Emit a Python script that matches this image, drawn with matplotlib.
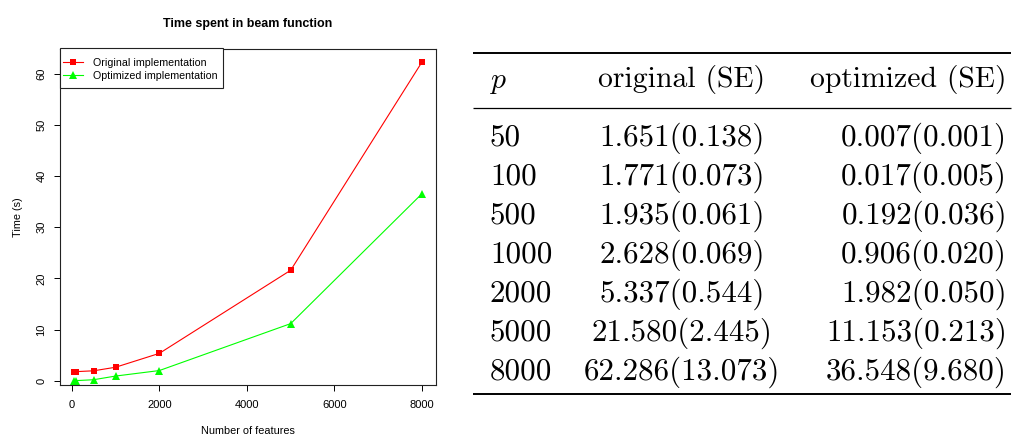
import matplotlib
matplotlib.use("Agg")
import matplotlib.pyplot as plt
from matplotlib.patches import Rectangle

# ---- data ----
p_values = [50, 100, 500, 1000, 2000, 5000, 8000]
orig_time = [1.651, 1.771, 1.935, 2.628, 5.337, 21.580, 62.286]
orig_se = [0.138, 0.073, 0.061, 0.069, 0.544, 2.445, 13.073]
opt_time = [0.007, 0.017, 0.192, 0.906, 1.982, 11.153, 36.548]
opt_se = [0.001, 0.005, 0.036, 0.020, 0.050, 0.213, 9.680]
x_ticks = [0, 2000, 4000, 6000, 8000]
y_ticks = [0, 10, 20, 30, 40, 50, 60]
title = "Time spent in beam function"
xlabel = "Number of features"
ylabel = "Time (s)"
series_labels = ["Original implementation", "Optimized implementation"]
table_header = ["original (SE)", "optimized (SE)"]

plt.rcParams['mathtext.fontset'] = 'cm'
W, H = 1019, 436
fig = plt.figure(figsize=(W / 100, H / 100), dpi=100)

# ---- table (pixel coordinate layer) ----
tab = fig.add_axes([0, 0, 1, 1])
tab.set_xlim(0, W)
tab.set_ylim(H, 0)
tab.set_axis_off()

fs_tab = 22.3
fs_hdr = 21.4
rule_x0, rule_x1 = 473, 1011
tab.plot([rule_x0, rule_x1], [53.5, 53.5], color='black', lw=1.4, solid_capstyle='butt')
tab.plot([rule_x0, rule_x1], [108.3, 108.3], color='black', lw=0.9, solid_capstyle='butt')
tab.plot([rule_x0, rule_x1], [393.5, 393.5], color='black', lw=1.4, solid_capstyle='butt')

col1_x, col2_x, col3_x = 489, 682, 1007
hdr_y = 87.5
tab.text(col1_x, hdr_y, r'$p$', fontsize=fs_hdr, ha='left', va='baseline')
tab.text(col2_x, hdr_y, table_header[0], family='cmr10', fontsize=fs_hdr, ha='center', va='baseline')
tab.text(col3_x, hdr_y, table_header[1], family='cmr10', fontsize=fs_hdr, ha='right', va='baseline')
row_y0, row_step = 145.5, 39
for i, p in enumerate(p_values):
    y = row_y0 + i * row_step
    tab.text(col1_x + 1, y, str(p), family='cmr10', fontsize=fs_tab, ha='left', va='baseline')
    tab.text(col2_x, y, f"{orig_time[i]:.3f}({orig_se[i]:.3f})", family='cmr10',
             fontsize=fs_tab, ha='center', va='baseline')
    tab.text(col3_x, y, f"{opt_time[i]:.3f}({opt_se[i]:.3f})", family='cmr10',
             fontsize=fs_tab, ha='right', va='baseline')

# ---- plot ----
sans = ['Liberation Sans', 'DejaVu Sans']
ax = fig.add_axes([60 / W, 1 - 385 / H, (436 - 60) / W, (385 - 49) / H])
ax.plot(p_values, orig_time, color='#ff0000', lw=0.8, marker='s', ms=4.2,
        markeredgewidth=0, label=series_labels[0])
ax.plot(p_values, opt_time, color='#00ff00', lw=0.8, marker='^', ms=5.2,
        markeredgewidth=0, label=series_labels[1])
ax.set_xlim(-268, 8318)
ax.set_ylim(-0.84, 64.8)
ax.set_xticks(x_ticks)
ax.set_yticks(y_ticks)
ax.set_xticklabels([str(v) for v in x_ticks], family=sans, fontsize=8)
ax.set_yticklabels([str(v) for v in y_ticks], family=sans, fontsize=8,
                   rotation=90, va='center')
ax.tick_params(direction='out', length=4.5, width=0.7)
ax.tick_params(axis='x', pad=6.4)
ax.tick_params(axis='y', pad=5.2)
for s in ax.spines.values():
    s.set_linewidth(0.8)
    s.set_color('#222222')
ax.set_title(title, family=sans, fontsize=9, fontweight='bold', pad=16)
ax.set_xlabel(xlabel, family=sans, fontsize=7.8, labelpad=11.7)
ax.set_ylabel(ylabel, family=sans, fontsize=7.8, labelpad=10)

# legend: entries placed without frame, R-style box drawn separately
leg = ax.legend(loc='upper left', bbox_to_anchor=(63 / W, 1 - 57.5 / H),
                bbox_transform=fig.transFigure, borderaxespad=0, borderpad=0,
                prop={'family': sans, 'size': 7.7}, frameon=False,
                handlelength=1.87, handletextpad=0.9, labelspacing=0.3)
leg.set_zorder(6)
ax.add_patch(Rectangle((60, 48.5), 163, 39.5, transform=tab.transData,
                       facecolor='white', edgecolor='#222222', lw=0.8,
                       clip_on=False, zorder=5))

fig.savefig('out.png', dpi=100)
